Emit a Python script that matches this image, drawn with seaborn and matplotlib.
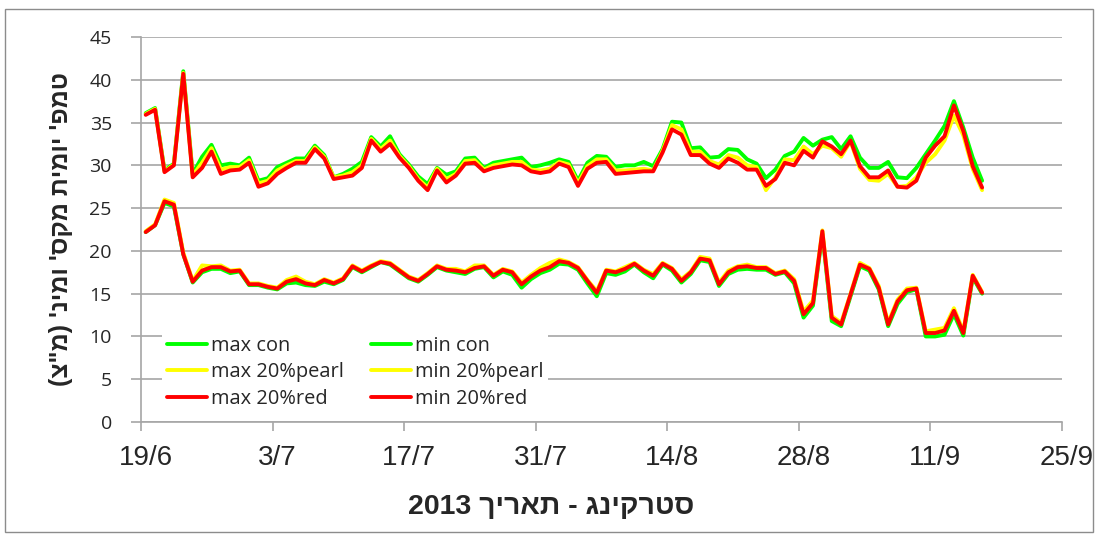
import matplotlib
matplotlib.use("Agg")
import matplotlib.pyplot as plt
import matplotlib.dates as mdates
import matplotlib.transforms as mtransforms
from matplotlib.patches import Rectangle
import numpy as np
import pandas as pd
import seaborn as sns

# daily values, 19/6/2013 - 16/9/2013
start_date = "2013-06-19"

max_con = [36.1, 36.7, 29.4, 30.2, 41.0, 29.0, 31.0, 32.4, 30.0, 30.2,
           30.0, 30.9, 28.2, 28.5, 29.8, 30.3, 30.8, 30.8, 32.3, 31.2,
           28.6, 29.0, 29.6, 30.4, 33.3, 32.2, 33.4, 31.3, 30.1, 28.7,
           27.8, 29.7, 28.9, 29.3, 30.8, 30.9, 29.7, 30.3, 30.5, 30.7,
           30.9, 29.8, 30.0, 30.3, 30.7, 30.4, 28.2, 30.3, 31.1, 31.0,
           29.8, 30.0, 30.0, 30.4, 29.9, 31.9, 35.1, 35.0, 32.0, 32.1,
           30.9, 31.0, 31.9, 31.8, 30.7, 30.2, 28.5, 29.5, 31.1, 31.6,
           33.2, 32.3, 33.0, 33.3, 31.9, 33.4, 30.9, 29.7, 29.7, 30.4,
           28.6, 28.5, 29.7, 31.3, 32.9, 34.6, 37.5, 34.4, 30.9, 28.2]

max_pearl = [36.0, 36.6, 29.3, 30.1, 40.8, 28.8, 30.3, 32.0, 29.5, 29.8,
             29.8, 30.6, 27.9, 28.2, 29.4, 30.0, 30.5, 30.5, 32.1, 31.0,
             28.6, 28.8, 29.2, 30.0, 33.1, 31.9, 32.9, 31.1, 29.9, 28.4,
             27.4, 29.6, 28.4, 29.0, 30.5, 30.6, 29.5, 30.0, 30.2, 30.4,
             30.4, 29.5, 29.4, 29.6, 30.4, 30.1, 27.9, 29.9, 30.7, 30.7,
             29.4, 29.4, 29.5, 29.6, 29.4, 31.7, 34.7, 34.2, 31.6, 31.6,
             30.5, 30.1, 31.2, 30.9, 30.0, 29.8, 27.1, 28.6, 30.7, 30.6,
             32.2, 31.3, 32.3, 32.0, 31.0, 32.8, 29.6, 28.3, 28.2, 29.0,
             27.5, 27.6, 28.6, 30.3, 31.3, 32.9, 35.8, 33.5, 29.6, 27.1]

max_red = [35.9, 36.5, 29.2, 30.0, 40.7, 28.6, 29.7, 31.6, 29.0, 29.4,
           29.5, 30.3, 27.5, 27.9, 29.0, 29.7, 30.3, 30.3, 31.9, 30.8,
           28.4, 28.6, 28.8, 29.7, 32.9, 31.6, 32.5, 30.9, 29.7, 28.2,
           27.1, 29.4, 28.0, 28.8, 30.2, 30.3, 29.3, 29.7, 29.9, 30.1,
           30.0, 29.3, 29.1, 29.3, 30.2, 29.8, 27.6, 29.6, 30.3, 30.4,
           29.0, 29.1, 29.2, 29.3, 29.3, 31.5, 34.2, 33.6, 31.2, 31.2,
           30.2, 29.7, 30.8, 30.3, 29.5, 29.5, 27.6, 28.4, 30.3, 30.0,
           31.7, 30.9, 32.8, 32.2, 31.3, 32.9, 29.9, 28.6, 28.6, 29.4,
           27.5, 27.4, 28.2, 30.9, 32.3, 33.4, 37.0, 34.0, 29.9, 27.4]

min_con = [22.2, 23.0, 25.6, 25.2, 19.6, 16.3, 17.5, 17.9, 17.9, 17.4,
           17.6, 16.0, 16.0, 15.7, 15.5, 16.2, 16.3, 16.0, 15.9, 16.4,
           16.1, 16.6, 18.1, 17.5, 18.1, 18.7, 18.4, 17.6, 16.8, 16.4,
           17.2, 18.1, 17.7, 17.5, 17.3, 17.9, 18.1, 16.9, 17.6, 17.2,
           15.7, 16.7, 17.4, 17.8, 18.5, 18.4, 17.8, 16.2, 14.7, 17.4,
           17.2, 17.6, 18.4, 17.5, 16.8, 18.4, 17.7, 16.3, 17.3, 18.9,
           18.7, 15.9, 17.3, 17.8, 17.9, 17.8, 17.8, 17.2, 17.5, 16.2,
           12.2, 13.6, 22.0, 11.8, 11.2, 14.7, 18.2, 17.7, 15.5, 11.2,
           13.8, 15.2, 15.5, 10.0, 10.0, 10.2, 12.6, 10.1, 16.9, 15.0]

min_pearl = [22.3, 23.1, 26.0, 25.6, 19.8, 16.5, 18.3, 18.2, 18.3, 17.7,
             17.8, 16.2, 16.2, 15.9, 15.7, 16.6, 17.0, 16.4, 16.1, 16.7,
             16.3, 16.8, 18.3, 17.7, 18.3, 18.8, 18.6, 17.8, 17.0, 16.6,
             17.4, 18.3, 17.9, 17.9, 17.6, 18.3, 18.3, 17.2, 17.9, 17.6,
             16.3, 17.2, 18.0, 18.6, 19.0, 18.7, 18.1, 16.6, 15.3, 17.8,
             17.6, 18.1, 18.6, 17.8, 17.3, 18.6, 18.0, 16.7, 17.6, 19.3,
             19.1, 16.3, 17.7, 18.2, 18.4, 18.1, 18.1, 17.4, 17.7, 16.7,
             12.9, 14.2, 22.4, 12.4, 11.6, 15.0, 18.6, 18.0, 15.9, 11.6,
             14.3, 15.6, 15.7, 10.6, 10.8, 11.0, 13.3, 10.6, 17.2, 15.2]

min_red = [22.2, 23.0, 25.8, 25.4, 19.6, 16.4, 17.7, 18.1, 18.1, 17.6,
           17.7, 16.1, 16.1, 15.8, 15.6, 16.4, 16.7, 16.2, 16.0, 16.6,
           16.2, 16.7, 18.2, 17.6, 18.2, 18.7, 18.5, 17.7, 16.9, 16.5,
           17.3, 18.2, 17.8, 17.7, 17.5, 18.0, 18.2, 17.1, 17.8, 17.5,
           16.1, 17.0, 17.7, 18.1, 18.8, 18.6, 18.0, 16.5, 15.1, 17.7,
           17.5, 17.9, 18.5, 17.7, 17.1, 18.5, 17.9, 16.5, 17.5, 19.1,
           18.9, 16.1, 17.5, 18.1, 18.2, 18.0, 18.0, 17.3, 17.6, 16.5,
           12.6, 13.9, 22.3, 12.2, 11.4, 14.9, 18.4, 17.9, 15.7, 11.4,
           14.1, 15.4, 15.6, 10.4, 10.4, 10.7, 13.0, 10.4, 17.1, 15.1]

series_labels = ["max con", "max 20%pearl", "max 20%red",
                 "min con", "min 20%pearl", "min 20%red"]
series_colors = ["#00ff00", "#ffff00", "#ff0000",
                 "#00ff00", "#ffff00", "#ff0000"]

# Hebrew text given in visual (left-to-right) order
ylabel_text = "(צ\"מ) 'נימו 'סקמ תימוי 'פמט"
xlabel_text = "2013 ךיראת - גניקרטס"

# Excel date axis puts each day in the middle of its slot
dates = pd.date_range(start_date, periods=len(max_red), freq="D") + pd.Timedelta(hours=12)

sns.set_theme(style="white")
plt.rcParams['font.family'] = ['Liberation Sans', 'DejaVu Sans']

fig = plt.figure(figsize=(10.98, 5.36), dpi=100)
ax = fig.add_axes([141 / 1098, 1 - 422 / 536, 921 / 1098, 385 / 536])

all_series = [max_con, max_pearl, max_red, min_con, min_pearl, min_red]
for vals, lab, col in zip(all_series, series_labels, series_colors):
    sns.lineplot(x=dates, y=vals, color=col, label=lab, linewidth=2.8, ax=ax)

ax.set_ylim(0, 45)
ax.set_yticks(np.arange(0, 46, 5))
ax.set_xlim(pd.Timestamp("2013-06-19"), pd.Timestamp("2013-09-25"))
ax.set_xticks(pd.date_range("2013-06-19", "2013-09-25", freq="14D"))
ax.xaxis.set_major_formatter(mdates.DateFormatter("%-d/%-m"))

ax.grid(axis="y", color="#a6a6a6", linewidth=1.2)
ax.grid(axis="x", visible=False)
for side in ["top", "right"]:
    ax.spines[side].set_visible(False)
for side in ["left", "bottom"]:
    ax.spines[side].set_color("#a6a6a6")
    ax.spines[side].set_linewidth(1.2)

ax.tick_params(axis="x", direction="out", length=6.5, width=1.2, color="#a6a6a6",
               labelsize=20, pad=10, bottom=True)
ax.tick_params(axis="y", direction="out", length=7, width=1.2, color="#a6a6a6",
               labelsize=14, pad=14, left=True)
shift = mtransforms.ScaledTranslation(5 / 100, 0, fig.dpi_scale_trans)
for t in ax.get_xticklabels():
    t.set_transform(t.get_transform() + shift)
for t in ax.get_yticklabels():
    t.set_family(["Open Sans", "DejaVu Sans"])

ax.set_xlabel(xlabel_text, fontsize=20.5, fontweight="bold")
ax.xaxis.set_label_coords(0.445, -0.222, transform=ax.transAxes)
ax.xaxis.label.set_va("center")
ax.set_ylabel(ylabel_text, fontsize=18, fontweight="bold", labelpad=12)

leg = ax.legend(ncol=2, loc="lower left", bbox_to_anchor=(0.012, -0.005),
                frameon=True, facecolor="white", edgecolor="white", framealpha=1,
                fancybox=False, prop={"family": "Open Sans", "size": 14.4},
                handlelength=2.0, handletextpad=0.2, columnspacing=1.35,
                labelspacing=0.33, borderpad=0.25)
leg.get_frame().set_linewidth(0)

fig.patches.append(Rectangle((5 / 1098, 4 / 536), 1088 / 1098, 523 / 536,
                             transform=fig.transFigure, fill=False,
                             edgecolor="#8c8c8c", linewidth=1))

fig.savefig("out.png", dpi=100, facecolor="white")
